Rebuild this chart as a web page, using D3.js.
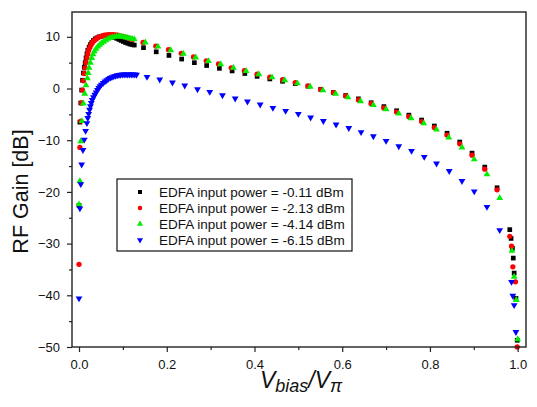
<!DOCTYPE html>
<html>
<head>
<meta charset="utf-8">
<script src="https://cdn.jsdelivr.net/npm/d3@7"></script>
<style>
  body { margin: 0; background: #fff; }
  text { font-family: "Liberation Sans", Arial, sans-serif; }
</style>
</head>
<body>
<div id="chart"></div>
<script>
// RF gain vs normalised bias, four EDFA input powers
const pwrM011 = [
  [0.000,-22.6],[0.002,-6.5],[0.004,-2.8],[0.006,-0.3],[0.008,1.6],[0.010,3.0],[0.012,4.1],[0.014,5.0],
  [0.016,5.9],[0.018,6.7],[0.020,7.4],[0.023,8.0],[0.026,8.5],[0.029,8.9],[0.033,9.3],[0.037,9.6],
  [0.041,9.8],[0.046,10.0],[0.051,10.1],[0.056,10.2],[0.061,10.2],[0.066,10.2],[0.071,10.1],[0.076,10.0],
  [0.081,9.9],[0.086,9.7],[0.091,9.5],[0.096,9.3],[0.101,9.1],[0.106,8.9],[0.111,8.75],[0.116,8.6],
  [0.121,8.5],[0.126,8.4],
  [0.147,7.9],[0.176,7.1],[0.205,6.4],[0.234,5.7],[0.263,5.0],[0.291,4.45],[0.320,3.9],[0.349,3.4],
  [0.378,2.9],[0.406,2.35],[0.435,1.85],[0.464,1.4],[0.493,0.95],[0.522,0.45],[0.551,-0.15],[0.580,-0.75],
  [0.608,-1.35],[0.637,-2.0],[0.666,-2.75],[0.695,-3.5],[0.724,-4.3],[0.752,-5.15],[0.781,-6.1],[0.810,-7.25],
  [0.839,-8.65],[0.868,-10.35],[0.896,-12.5],[0.925,-15.2],[0.953,-19.2],[0.982,-27.3],[0.985,-29.0],
  [0.988,-30.9],[0.990,-32.8],[0.992,-35.7],[0.996,-40.6],[0.999,-48.7]
];
const pwrM213 = [
  [0.000,-34.0],[0.002,-11.4],[0.004,-6.3],[0.006,-2.8],[0.008,-0.3],[0.010,1.5],[0.012,2.9],[0.014,4.0],
  [0.016,5.0],[0.018,5.9],[0.020,6.7],[0.022,7.4],[0.025,8.0],[0.028,8.5],[0.031,8.9],[0.035,9.3],
  [0.039,9.6],[0.043,9.85],[0.048,10.05],[0.053,10.2],[0.058,10.3],[0.063,10.35],[0.068,10.4],[0.073,10.4],
  [0.078,10.4],[0.083,10.35],[0.088,10.3],[0.093,10.2],[0.098,10.1],[0.103,10.0],[0.108,9.9],[0.113,9.75],
  [0.118,9.6],[0.122,9.5],
  [0.146,8.9],[0.175,8.2],[0.204,7.5],[0.233,6.8],[0.261,6.1],[0.290,5.35],[0.318,4.75],[0.347,4.0],
  [0.377,3.45],[0.406,2.8],[0.435,2.2],[0.464,1.7],[0.493,1.15],[0.522,0.5],[0.551,-0.2],[0.580,-0.8],
  [0.608,-1.45],[0.637,-2.2],[0.666,-2.95],[0.695,-3.75],[0.724,-4.55],[0.752,-5.45],[0.781,-6.4],[0.810,-7.55],
  [0.839,-9.0],[0.868,-10.7],[0.896,-12.9],[0.925,-15.6],[0.953,-19.6],[0.982,-28.6],[0.986,-30.5],
  [0.989,-34.5],[0.995,-37.4],[0.999,-50.0]
];
const pwrM414 = [
  [0.000,-22.4],[0.002,-17.9],[0.004,-10.2],[0.007,-6.3],[0.010,-2.9],[0.013,-1.0],[0.016,0.6],[0.019,2.0],
  [0.021,3.0],[0.023,4.0],[0.026,5.0],[0.029,5.9],[0.032,6.6],[0.035,7.2],[0.039,7.7],[0.043,8.1],
  [0.047,8.45],[0.051,8.75],[0.056,9.05],[0.061,9.35],[0.066,9.6],[0.071,9.8],[0.076,9.9],[0.081,10.0],
  [0.086,10.05],[0.091,10.1],[0.096,10.05],[0.101,10.0],[0.106,9.9],[0.111,9.8],[0.116,9.7],[0.121,9.6],
  [0.126,9.5],
  [0.151,8.9],[0.180,8.1],[0.209,7.4],[0.238,6.7],[0.266,6.0],[0.295,5.3],[0.323,4.7],[0.352,4.0],
  [0.381,3.4],[0.410,2.75],[0.440,2.15],[0.469,1.6],[0.498,1.0],[0.527,0.35],[0.556,-0.35],[0.585,-1.0],
  [0.613,-1.7],[0.642,-2.45],[0.671,-3.2],[0.700,-4.0],[0.729,-4.85],[0.757,-5.75],[0.786,-6.75],[0.815,-7.95],
  [0.843,-9.5],[0.873,-11.4],[0.901,-13.7],[0.930,-16.6],[0.959,-21.2],[0.987,-31.4],[0.992,-36.4],
  [0.997,-40.9],[1.000,-48.5]
];
const pwrM615 = [
  [0.000,-40.6],[0.002,-23.2],[0.004,-18.5],[0.006,-14.7],[0.009,-11.9],[0.012,-9.9],[0.015,-8.2],[0.018,-6.7],
  [0.020,-5.7],[0.022,-4.9],[0.024,-4.1],[0.026,-3.4],[0.028,-2.8],[0.030,-2.2],[0.033,-1.7],[0.036,-1.2],
  [0.039,-0.75],[0.042,-0.3],[0.045,0.1],[0.048,0.45],[0.051,0.75],[0.055,1.05],[0.059,1.35],[0.063,1.6],
  [0.067,1.85],[0.071,2.05],[0.075,2.2],[0.079,2.35],[0.083,2.45],[0.087,2.55],[0.091,2.6],[0.095,2.65],
  [0.099,2.7],[0.103,2.7],[0.107,2.7],[0.111,2.7],[0.115,2.7],[0.119,2.7],[0.123,2.7],[0.127,2.7],[0.131,2.65],
  [0.155,2.24],[0.184,1.74],[0.213,1.16],[0.241,0.58],[0.270,-0.14],[0.298,-0.66],[0.327,-1.3],[0.356,-1.93],
  [0.384,-2.51],[0.413,-3.09],[0.442,-3.75],[0.471,-4.33],[0.500,-4.91],[0.528,-5.61],[0.557,-6.3],[0.586,-6.96],
  [0.615,-7.65],[0.643,-8.45],[0.671,-9.23],[0.700,-10.13],[0.729,-11.16],[0.758,-12.07],[0.787,-13.23],
  [0.815,-14.51],[0.844,-15.95],[0.873,-17.9],[0.901,-19.9],[0.930,-22.9],[0.959,-27.4],[0.986,-37.4],
  [0.989,-40.1],[0.992,-41.9],[0.996,-47.1]
];

const seriesData = [pwrM011, pwrM213, pwrM414, pwrM615];
const seriesLabels = [
  "EDFA input power = -0.11 dBm",
  "EDFA input power = -2.13 dBm",
  "EDFA input power = -4.14 dBm",
  "EDFA input power = -6.15 dBm"
];
const xTicks = [0, 0.2, 0.4, 0.6, 0.8, 1.0];
const xMinorTicks = [0.1, 0.3, 0.5, 0.7, 0.9];
const yTicks = [-50, -40, -30, -20, -10, 0, 10];
const yMinorTicks = [-45, -35, -25, -15, -5, 5];

const colors = ["#000000", "#ff0000", "#00ee00", "#0000ff"];
const shapes = [d3.symbolSquare, d3.symbolCircle, d3.symbolTriangle, d3.symbolTriangle];
const rotations = [0, 0, 0, 180];

const W = 537, H = 407;
const margin = { top: 12, right: 11, bottom: 60, left: 72 };
const width = W - margin.left - margin.right;
const height = H - margin.top - margin.bottom;

const svg = d3.select("#chart").append("svg")
  .attr("width", W)
  .attr("height", H)
  .style("background", "#fff");

const g = svg.append("g").attr("transform", `translate(${margin.left},${margin.top})`);

const x = d3.scaleLinear().domain([-0.016, 1.019]).range([0, width]);
const y = d3.scaleLinear().domain([-50, 14.8]).range([height, 0]);

// markers
seriesData.forEach((s, i) => {
  const sym = d3.symbol().type(shapes[i]).size(i < 2 ? 22 : 20);
  g.append("g").selectAll("path")
    .data(s)
    .join("path")
    .attr("d", sym)
    .attr("transform", d => `translate(${x(d[0])},${y(d[1])}) rotate(${rotations[i]})`)
    .attr("fill", colors[i]);
});

// axes
const axisColor = "#222";
g.append("g")
  .attr("transform", `translate(0,${height})`)
  .call(d3.axisBottom(x).tickValues(xTicks).tickSize(5).tickPadding(8).tickFormat(d3.format(".1f")));
g.append("g")
  .attr("transform", `translate(0,${height})`)
  .call(d3.axisBottom(x).tickValues(xMinorTicks).tickSize(3).tickFormat(""));
g.append("g")
  .call(d3.axisLeft(y).tickValues(yTicks).tickSize(5).tickPadding(7));
g.append("g")
  .call(d3.axisLeft(y).tickValues(yMinorTicks).tickSize(3).tickFormat(""));

g.selectAll(".domain").remove();
g.selectAll(".tick line").attr("stroke", axisColor).attr("stroke-width", 1.2);
g.selectAll(".tick text")
  .attr("fill", "#111")
  .style("font-size", "13px")
  .style("font-family", "'Liberation Sans', Arial, sans-serif");

// frame
g.append("rect")
  .attr("width", width)
  .attr("height", height)
  .attr("fill", "none")
  .attr("stroke", axisColor)
  .attr("stroke-width", 1.4);

// axis titles
svg.append("text")
  .attr("transform", `translate(28,191.5) rotate(-90)`)
  .attr("text-anchor", "middle")
  .style("font-size", "21.5px")
  .attr("fill", "#111")
  .text("RF Gain [dB]");

const xt = svg.append("text")
  .attr("x", 301)
  .attr("y", 388)
  .attr("text-anchor", "middle")
  .attr("fill", "#111")
  .style("font-style", "italic");
xt.append("tspan").style("font-size", "23px").text("V");
xt.append("tspan").style("font-size", "18px").attr("dy", 4).text("bias");
xt.append("tspan").style("font-size", "23px").attr("dy", -4).text("/V");
xt.append("tspan").style("font-size", "18px").attr("dy", 4).text("π");

// legend
const leg = svg.append("g").attr("transform", "translate(117,179)");
leg.append("rect")
  .attr("width", 235)
  .attr("height", 72)
  .attr("fill", "#fff")
  .attr("stroke", "#111")
  .attr("stroke-width", 1.2);
seriesLabels.forEach((lab, i) => {
  const ry = 13 + i * 16;
  leg.append("path")
    .attr("d", d3.symbol().type(shapes[i]).size(16))
    .attr("transform", `translate(23,${ry}) rotate(${rotations[i]})`)
    .attr("fill", colors[i]);
  leg.append("text")
    .attr("x", 42)
    .attr("y", ry)
    .attr("dy", "0.35em")
    .style("font-size", "13.5px")
    .attr("fill", "#111")
    .text(lab);
});
</script>
</body>
</html>
